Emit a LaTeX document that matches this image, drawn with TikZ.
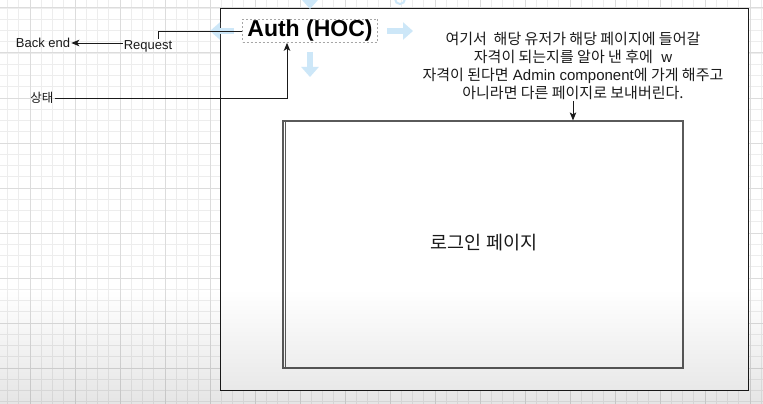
\documentclass[tikz,border=0pt]{standalone}
\usepackage{fontspec}
\setmainfont{Liberation Sans}
\newfontfamily\kr{Noto Sans CJK KR}
\usetikzlibrary{arrows.meta,fadings}

\definecolor{gridminor}{HTML}{EDEDED}
\definecolor{gridmajor}{HTML}{DCDCDC}
\definecolor{hoverblue}{HTML}{CDE7F8}
\definecolor{ink}{HTML}{1A1A1A}
\definecolor{pageline}{HTML}{5A5A5A}

\tikzfading[name=fadeup, top color=transparent!100, bottom color=transparent!0]

\begin{document}
\begin{tikzpicture}[x=1pt,y=-1pt,
  minorgrid/.style={draw=gridminor, line width=0.8pt},
  majorgrid/.style={draw=gridmajor, line width=1pt},
  framebox/.style={draw=ink, fill=white, line width=1pt, inner sep=0pt,
    minimum width=528pt, minimum height=381pt},
  pagebox/.style={draw=pageline, fill=white, line width=1.2pt, inner sep=0pt,
    minimum width=400pt, minimum height=247pt},
  selbox/.style={draw=gray!70, dashed, dash pattern=on 2pt off 2pt, line width=0.6pt,
    inner sep=0pt, minimum width=135pt, minimum height=23pt,
    font=\bfseries\fontsize{23}{26}\selectfont},
  label/.style={inner sep=1pt, font=\fontsize{13}{15}\selectfont, text=ink},
  note/.style={inner sep=1pt, align=center, font=\fontsize{15}{18}\selectfont, text=ink},
  wire/.style={draw=ink, line width=0.9pt},
  arr/.style={wire, -{Stealth[length=8pt,width=6.5pt,inset=2pt]}},
  hover/.style={draw=hoverblue, line width=6pt,
    -{Triangle[length=10pt,width=17pt]}}
]
\useasboundingbox (0,0) rectangle (763,404);
\fill[white] (0,0) rectangle (763,404);

% background grid
\foreach \i in {0,...,67} \draw[minorgrid] ({7.5+11.25*\i},0) -- ({7.5+11.25*\i},404);
\foreach \i in {0,...,35} \draw[minorgrid] (0,{8+11.25*\i}) -- (763,{8+11.25*\i});
\foreach \i in {0,...,16} \draw[majorgrid] ({30+45*\i},0) -- ({30+45*\i},404);
\foreach \i in {0,...,8} \draw[majorgrid] (0,{8+45*\i}) -- (763,{8+45*\i});

% container and page
\node (frame) [framebox] at (484,199.5) {};
\node (page) [pagebox] at (483,244.5) {};
\draw[pageline, line width=1.2pt] ([xshift=3pt]page.north west) -- ([xshift=3pt]page.south west);
\node (pagetitle) at (484,243) [font=\kr\fontsize{18.5}{22}\selectfont, text=ink] {로그인 페이지};

% hover handles around the selected shape
\draw[hover] (310,-8) -- (310,9);
\draw[draw=hoverblue, line width=2pt] (400,-1) circle (5);
\draw[hover] (234,31) -- (210,31);
\draw[hover] (387,31) -- (413,31);
\draw[hover] (310,52) -- (310,77);

% labels
\node (auth) [selbox] at (310,31) {Auth (HOC)};
\node (request) [label] at (148,46) {Request};
\node (backend) [label] at (43,43) {Back end};
\node (state) [label, font=\kr\fontsize{12.5}{15}\selectfont] at (42,98) {상태};
\node (note) [note] at (573,66) {%
  {\kr 여기서\ \ 해당 유저가 해당 페이지에 들어갈}\\
  {\kr 자격이 되는지를 알아 낸 후에}\ \ w\\
  {\kr 자격이 된다면} Admin component{\kr 에 가게 해주고}\\
  {\kr 아니라면 다른 페이지로 보내버린다.}};

% connectors
\draw[wire] (auth.west) -| ([xshift=10pt]request.north);
\draw[arr] (request.west |- backend) -- (backend.east);
\draw[arr] (state.east) -| ([xshift=-23pt]auth.south);
\draw[arr] (note.south) -- (note.south |- page.north);

% soft darkening toward the bottom edge
\fill[black, fill opacity=0.1, path fading=fadeup] (0,290) rectangle (763,404);
\end{tikzpicture}
\end{document}
